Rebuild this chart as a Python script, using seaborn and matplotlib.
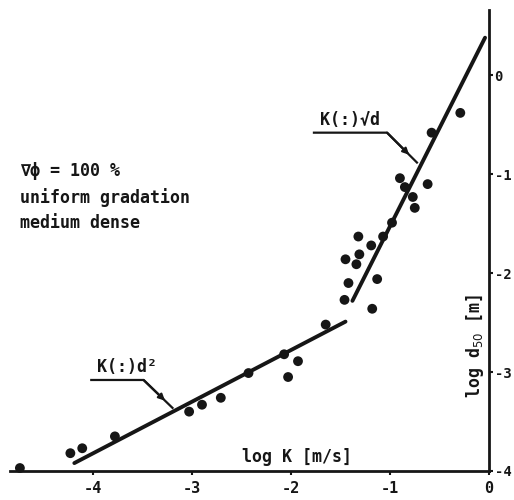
import matplotlib
matplotlib.use("Agg")
import matplotlib.pyplot as plt
import seaborn as sns
import pandas as pd

# Measured points: log permeability K [m/s] vs log grain size d50 [m]
log_k_fine = [-4.74, -4.23, -4.11, -3.78, -3.03, -2.90, -2.71, -2.43,
              -2.07, -2.03, -1.93, -1.65]
log_d_fine = [-3.97, -3.82, -3.77, -3.65, -3.40, -3.33, -3.26, -3.01,
              -2.82, -3.05, -2.89, -2.52]

log_k_coarse = [-1.18, -1.46, -1.42, -1.13, -1.34, -1.45, -1.31, -1.19,
                -1.32, -1.07, -0.98, -0.75, -0.77, -0.85, -0.62, -0.90,
                -0.58, -0.29]
log_d_coarse = [-2.36, -2.27, -2.10, -2.06, -1.91, -1.86, -1.81, -1.72,
                -1.63, -1.63, -1.49, -1.34, -1.23, -1.13, -1.10, -1.04,
                -0.58, -0.38]

# Fitted trend lines (end points): K ~ d^2 and K ~ sqrt(d)
fit_d2_k = [-4.19, -1.45]
fit_d2_d = [-3.92, -2.49]
fit_sqrt_k = [-1.38, -0.04]
fit_sqrt_d = [-2.28, 0.38]

x_ticks = [-4, -3, -2, -1, 0]
x_tick_labels = ["-4", "-3", "-2", "-1", "0"]
y_ticks = [0, -1, -2, -3, -4]
y_tick_labels = ["0", "-1", "-2", "-3", "-4"]

points = pd.DataFrame({
    "log_k": log_k_fine + log_k_coarse,
    "log_d": log_d_fine + log_d_coarse,
})
fits = pd.DataFrame({
    "log_k": fit_d2_k + fit_sqrt_k,
    "log_d": fit_d2_d + fit_sqrt_d,
    "law": ["d2", "d2", "sqrt", "sqrt"],
})

sns.set_theme(style="white")
plt.rcParams["font.family"] = ["DejaVu Sans Mono", "DejaVu Sans"]
plt.rcParams["axes.unicode_minus"] = False

INK = "#161616"
FS = 12

fig = plt.figure(figsize=(5.14, 5.0), dpi=100)
ax = fig.add_axes([10 / 514, 29 / 500, 479 / 514, 461 / 500])

sns.lineplot(data=fits, x="log_k", y="log_d", units="law", estimator=None,
             color=INK, linewidth=2.8, ax=ax, legend=False, sort=False)
sns.scatterplot(data=points, x="log_k", y="log_d", color=INK, s=50,
                edgecolor="none", ax=ax, legend=False, clip_on=False,
                zorder=4)

ax.set_xlim(-4.84, 0)
ax.set_ylim(-4, 0.66)
ax.set_xlabel("")
ax.set_ylabel("")

for side in ("left", "top"):
    ax.spines[side].set_visible(False)
for side in ("right", "bottom"):
    ax.spines[side].set_linewidth(2.0)
    ax.spines[side].set_color(INK)

ax.yaxis.tick_right()
ax.set_xticks(x_ticks)
ax.set_xticklabels(x_tick_labels)
ax.set_yticks(y_ticks)
ax.set_yticklabels(y_tick_labels)
ax.tick_params(axis="x", direction="out", length=3, width=1.5, pad=4,
               labelsize=11, colors=INK, bottom=True)
ax.tick_params(axis="y", direction="out", length=3, width=1.5, pad=1,
               labelsize=10, colors=INK, right=True, left=False)
for lab in ax.get_xticklabels() + ax.get_yticklabels():
    lab.set_fontweight("bold")

# Axis titles sit inside the frame
ax.text(-1.94, -3.86, "log K [m/s]", ha="center", va="center",
        fontsize=FS, fontweight="bold", color=INK)
ax.text(-0.14, -2.74, "log d$_{50}$ [m]", ha="center", va="center",
        rotation=90, fontsize=FS, fontweight="bold", color=INK)

# Test conditions
ax.text(-4.74, -1.23, "\u2207\u03d5 = 100 %\nuniform gradation\nmedium dense",
        ha="left", va="center", fontsize=FS, fontweight="bold",
        linespacing=1.5, color=INK)


def leader(label, text_xy, knee_x, tip_xy):
    """Underlined label with a leader line pointing onto a trend line."""
    tx, ty = text_xy
    ax.text(tx, ty + 0.04, label, ha="left", va="bottom", fontsize=FS,
            fontweight="bold", color=INK)
    ax.plot([tx - 0.07, knee_x, tip_xy[0]], [ty, ty, tip_xy[1]],
            color=INK, linewidth=1.6, solid_capstyle="butt")
    mid = (knee_x + 0.72 * (tip_xy[0] - knee_x),
           ty + 0.72 * (tip_xy[1] - ty))
    ax.annotate("", xy=mid, xytext=(knee_x, ty),
                arrowprops=dict(arrowstyle="-|>", color=INK, lw=1.6,
                                mutation_scale=9, shrinkA=0, shrinkB=0))


leader("K(:)\u221ad", (-1.71, -0.58), -1.03, (-0.72, -0.89))
leader("K(:)d\u00b2", (-3.96, -3.08), -3.49, (-3.19, -3.37))

fig.savefig("out.png", dpi=100)
